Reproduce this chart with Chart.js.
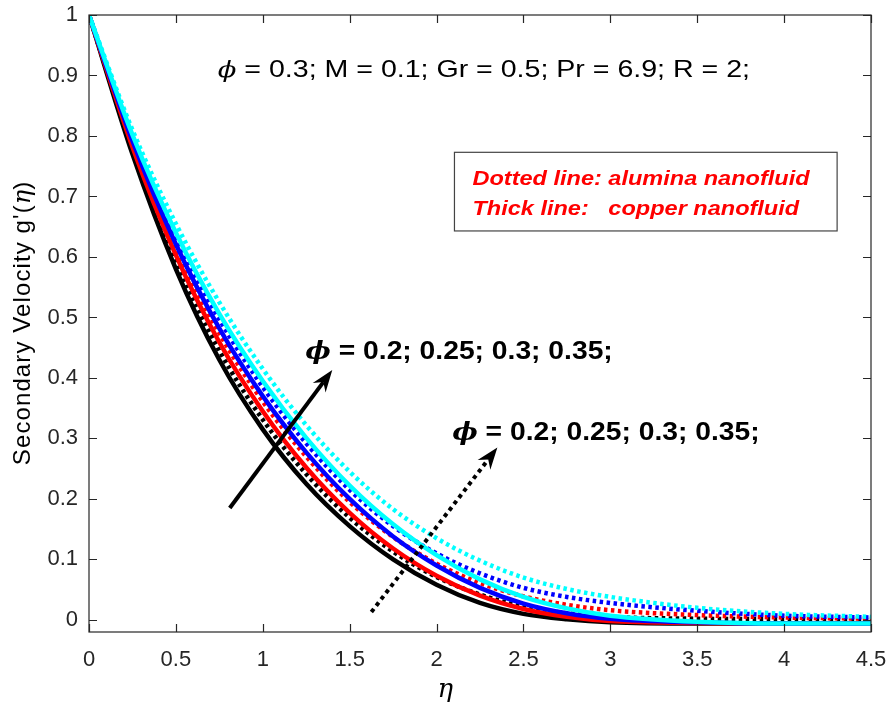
<!DOCTYPE html>
<html>
<head>
<meta charset="utf-8">
<script src="https://cdn.jsdelivr.net/npm/chart.js@4.4.1/dist/chart.umd.min.js"></script>
<style>
  body { margin: 0; background: #fff; }
  canvas { display: block; }
</style>
</head>
<body>
<canvas id="chart" width="890" height="713"></canvas>
<script>
const eta = [0, 0.25, 0.5, 0.75, 1, 1.25, 1.5, 1.75, 2, 2.25, 2.5, 2.75, 3, 3.5, 4, 4.5];

// copper nanofluid (solid lines), phi = 0.2, 0.25, 0.3, 0.35
const cu020 = [1, 0.77, 0.58, 0.43, 0.315, 0.225, 0.155, 0.1, 0.058, 0.028, 0.01, 0.001, -0.004, -0.006, -0.006, -0.006];
const cu025 = [1, 0.782, 0.603, 0.459, 0.345, 0.252, 0.177, 0.118, 0.073, 0.04, 0.018, 0.005, -0.002, -0.005, -0.006, -0.006];
const cu030 = [1, 0.792, 0.621, 0.482, 0.37, 0.277, 0.2, 0.138, 0.09, 0.053, 0.027, 0.011, 0.002, -0.004, -0.006, -0.006];
const cu035 = [1, 0.802, 0.64, 0.506, 0.395, 0.301, 0.222, 0.158, 0.107, 0.067, 0.038, 0.019, 0.007, -0.003, -0.006, -0.006];

// alumina nanofluid (dotted lines), phi = 0.2, 0.25, 0.3, 0.35
const al020 = [1, 0.777, 0.592, 0.445, 0.331, 0.241, 0.169, 0.113, 0.071, 0.042, 0.022, 0.011, 0.005, 0.002, 0.001, 0.0];
const al025 = [1, 0.788, 0.615, 0.474, 0.361, 0.27, 0.195, 0.137, 0.093, 0.061, 0.039, 0.025, 0.016, 0.008, 0.004, 0.002];
const al030 = [1, 0.798, 0.633, 0.497, 0.385, 0.292, 0.215, 0.155, 0.11, 0.077, 0.053, 0.038, 0.028, 0.015, 0.007, 0.004];
const al035 = [1, 0.81, 0.655, 0.525, 0.415, 0.322, 0.245, 0.183, 0.135, 0.098, 0.07, 0.051, 0.038, 0.02, 0.01, 0.005];

const xTicks = [0, 0.5, 1, 1.5, 2, 2.5, 3, 3.5, 4, 4.5];
const yTicks = [0, 0.1, 0.2, 0.3, 0.4, 0.5, 0.6, 0.7, 0.8, 0.9, 1];

// annotation anchors in data units
const arrowSolid = [[0.81, 0.185], [1.40, 0.413]];
const arrowDotted = [[1.625, 0.013], [2.35, 0.285]];

const sans = "'Liberation Sans', Arial, sans-serif";
const serif = "'DejaVu Serif', serif";
const axisColor = '#262626';

function toPoints(vals) {
    return eta.map((e, i) => ({ x: e, y: vals[i] }));
}

function line(vals, color, dotted) {
    return {
        data: toPoints(vals),
        borderColor: color,
        backgroundColor: color,
        borderWidth: 4.5,
        borderDash: dotted ? [3.5, 3.5] : [],
        borderCapStyle: 'butt',
        pointRadius: 0,
        cubicInterpolationMode: 'monotone',
        fill: false
    };
}

// first dataset is painted on top
const datasets = [
    line(al035, '#00ffff', true),
    line(cu035, '#00ffff', false),
    line(al030, '#0000ff', true),
    line(cu030, '#0000ff', false),
    line(al025, '#ff0000', true),
    line(cu025, '#ff0000', false),
    line(al020, '#000000', true),
    line(cu020, '#000000', false)
];

function drawArrow(ctx, x0, y0, x1, y1, dotted) {
    const ang = Math.atan2(y1 - y0, x1 - x0);
    const len = 22, half = 8, notch = 15;
    const cos = Math.cos(ang), sin = Math.sin(ang);
    ctx.save();
    ctx.strokeStyle = '#000';
    ctx.fillStyle = '#000';
    ctx.lineWidth = 4;
    ctx.lineCap = 'butt';
    if (dotted) ctx.setLineDash([4, 4]);
    ctx.beginPath();
    ctx.moveTo(x0, y0);
    ctx.lineTo(x1 - cos * notch, y1 - sin * notch);
    ctx.stroke();
    ctx.setLineDash([]);
    ctx.beginPath();
    ctx.moveTo(x1, y1);
    ctx.lineTo(x1 - cos * len - sin * half, y1 - sin * len + cos * half);
    ctx.lineTo(x1 - cos * notch, y1 - sin * notch);
    ctx.lineTo(x1 - cos * len + sin * half, y1 - sin * len - cos * half);
    ctx.closePath();
    ctx.fill();
    ctx.restore();
}

// draws a run of [text, font, color] pieces from a left baseline point,
// stretched horizontally by sx (the source figure is wider than tall)
function drawRun(ctx, x, y, pieces, sx) {
    ctx.save();
    ctx.translate(x, y);
    ctx.scale(sx || 1, 1);
    ctx.textBaseline = 'alphabetic';
    ctx.textAlign = 'left';
    let cx = 0;
    pieces.forEach(([t, f, c, sp]) => {
        ctx.font = f;
        ctx.letterSpacing = (sp || 0) + 'px';
        ctx.fillStyle = c || '#000';
        ctx.fillText(t, cx, 0);
        cx += ctx.measureText(t).width;
    });
    ctx.restore();
}

function runWidth(ctx, pieces) {
    let w = 0;
    ctx.save();
    pieces.forEach(([t, f, c, sp]) => {
        ctx.font = f;
        ctx.letterSpacing = (sp || 0) + 'px';
        w += ctx.measureText(t).width;
    });
    ctx.restore();
    return w;
}

const frame = {
    id: 'frame',
    afterDatasetsDraw(chart) {
        const { ctx, chartArea: a, scales: { x, y } } = chart;
        ctx.save();
        ctx.strokeStyle = axisColor;
        ctx.lineWidth = 1.2;
        ctx.strokeRect(a.left, a.top, a.right - a.left, a.bottom - a.top);
        ctx.beginPath();
        xTicks.forEach(v => {
            const px = Math.round(x.getPixelForValue(v)) + 0.5;
            ctx.moveTo(px, a.bottom); ctx.lineTo(px, a.bottom - 8);
            ctx.moveTo(px, a.top); ctx.lineTo(px, a.top + 8);
        });
        yTicks.forEach(v => {
            const py = Math.round(y.getPixelForValue(v)) + 0.5;
            ctx.moveTo(a.left, py); ctx.lineTo(a.left + 8, py);
            ctx.moveTo(a.right, py); ctx.lineTo(a.right - 8, py);
        });
        ctx.stroke();
        ctx.restore();

        // arrows
        const px = p => [x.getPixelForValue(p[0]), y.getPixelForValue(p[1])];
        const s0 = px(arrowSolid[0]), s1 = px(arrowSolid[1]);
        drawArrow(ctx, s0[0], s0[1], s1[0], s1[1], false);
        const d0 = px(arrowDotted[0]), d1 = px(arrowDotted[1]);
        drawArrow(ctx, d0[0], d0[1], d1[0], d1[1], true);

        // parameter line
        const phiIt = 'italic 23px ' + serif;
        const plain = '24px ' + sans;
        drawRun(ctx, x.getPixelForValue(0.741), y.getPixelForValue(0.8975), [
            ['\u03d5', phiIt], [' = 0.3; M = 0.1; Gr = 0.5; Pr = 6.9; R = 2;', plain]
        ], 1.19);

        // phi labels next to arrows
        const phiB = 'italic bold 24px ' + serif;
        const bold = 'bold 25px ' + sans;
        const lab = [['\u03d5', phiB], [' = 0.2; 0.25; 0.3; 0.35;', bold]];
        drawRun(ctx, x.getPixelForValue(1.245), y.getPixelForValue(0.432), lab, 1.13);
        drawRun(ctx, x.getPixelForValue(2.09), y.getPixelForValue(0.298), lab, 1.13);

        // note box
        const bx0 = x.getPixelForValue(2.103), by0 = y.getPixelForValue(0.773);
        const bx1 = x.getPixelForValue(4.305), by1 = y.getPixelForValue(0.643);
        ctx.save();
        ctx.fillStyle = '#fff';
        ctx.fillRect(bx0, by0, bx1 - bx0, by1 - by0);
        ctx.strokeStyle = '#444';
        ctx.lineWidth = 1.2;
        ctx.strokeRect(bx0, by0, bx1 - bx0, by1 - by0);
        ctx.restore();
        const noteFont = 'italic bold 21px ' + sans;
        drawRun(ctx, bx0 + 18, by0 + 33, [['Dotted line: alumina nanofluid', noteFont, '#ff0000']], 1.12);
        drawRun(ctx, bx0 + 18, by0 + 63, [['Thick line:   copper nanofluid', noteFont, '#ff0000']], 1.12);

        // axis titles
        const tf = '24px ' + sans;
        const ti = 'italic 24px ' + serif;
        const yt = [["Secondary Velocity g'(", tf, '#000', 1.1], ['\u03b7', ti, '#000', 0], [')', tf, '#000', 0]];
        const w = runWidth(ctx, yt);
        ctx.save();
        ctx.translate(30, (a.top + a.bottom) / 2);
        ctx.rotate(-Math.PI / 2);
        drawRun(ctx, -w / 2, 0, yt, 1);
        ctx.restore();
        ctx.save();
        ctx.font = 'italic 26px ' + serif;
        ctx.fillStyle = '#000';
        ctx.textAlign = 'center';
        ctx.textBaseline = 'alphabetic';
        ctx.fillText('\u03b7', x.getPixelForValue(2.05), 697);
        ctx.restore();
    }
};

new Chart(document.getElementById('chart').getContext('2d'), {
    type: 'line',
    data: { datasets: datasets },
    options: {
        responsive: false,
        animation: false,
        events: [],
        layout: { padding: { top: 15, right: 19, left: 0, bottom: 0 } },
        plugins: { legend: { display: false }, tooltip: { enabled: false } },
        scales: {
            x: {
                type: 'linear',
                min: 0,
                max: 4.5,
                afterBuildTicks: s => { s.ticks = xTicks.map(v => ({ value: v })); },
                afterFit: s => { s.height = 81; s.paddingLeft = 0; s.paddingRight = 0; },
                ticks: {
                    color: axisColor,
                    font: { family: sans, size: 22 },
                    padding: 15,
                    maxRotation: 0,
                    callback: v => String(v)
                },
                grid: { display: false, drawTicks: false },
                border: { display: false }
            },
            y: {
                min: -0.02,
                max: 1,
                afterBuildTicks: s => { s.ticks = yTicks.map(v => ({ value: v })); },
                afterFit: s => { s.width = 89; s.paddingTop = 0; s.paddingBottom = 0; },
                ticks: {
                    color: axisColor,
                    font: { family: sans, size: 22 },
                    padding: 11,
                    callback: v => String(Math.round(v * 10) / 10)
                },
                grid: { display: false, drawTicks: false },
                border: { display: false }
            }
        }
    },
    plugins: [frame]
});
</script>
</body>
</html>
